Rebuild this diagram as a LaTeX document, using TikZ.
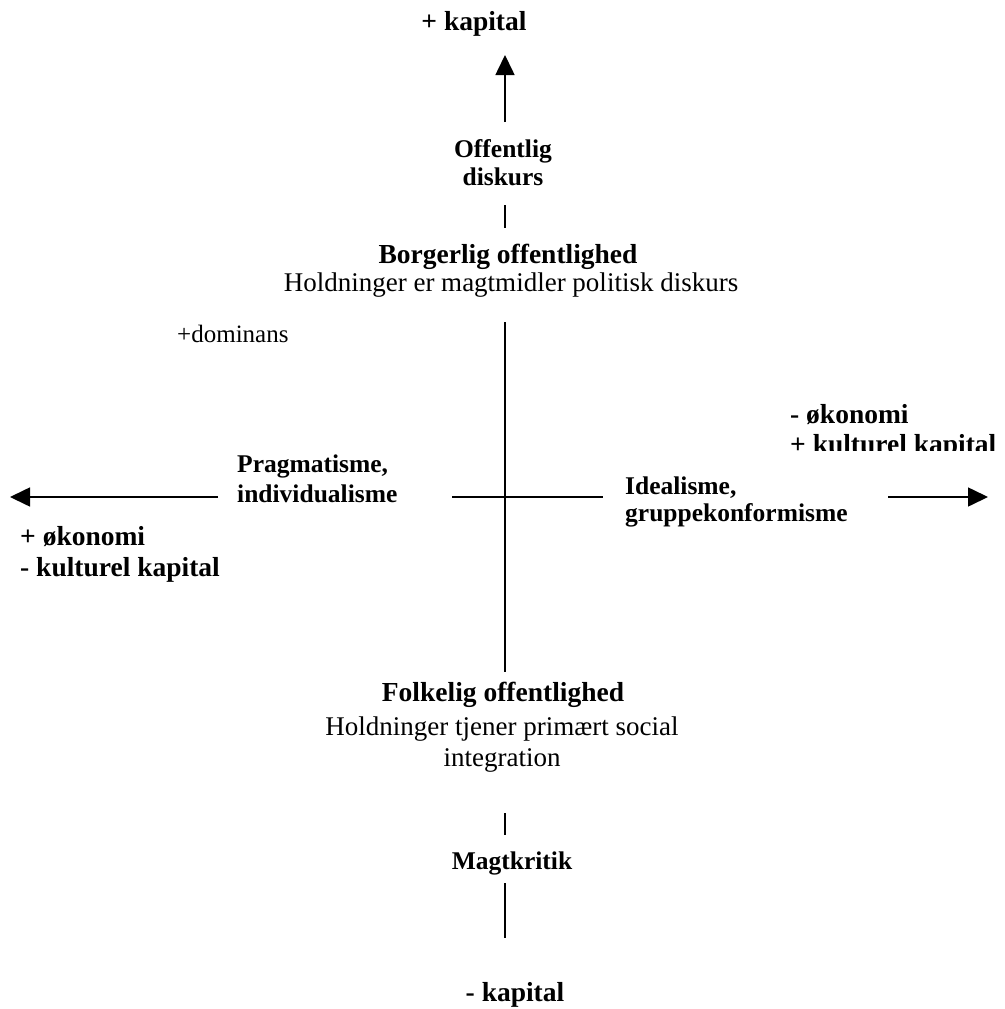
\documentclass[tikz,border=0pt]{standalone}
\usepackage{fontspec}
\setmainfont{Liberation Serif}
\usetikzlibrary{arrows.meta}
\begin{document}
\begin{tikzpicture}[x=1pt,y=-1pt,
  lbl/.style={inner sep=0pt, anchor=base},
  lblw/.style={inner sep=0pt, anchor=base west},
  bigb/.style={font=\fontsize{27.5}{32}\selectfont\bfseries},
  smallb/.style={font=\fontsize{25.5}{30}\selectfont\bfseries},
  reg/.style={font=\fontsize{27}{32}\selectfont},
  regs/.style={font=\fontsize{25}{30}\selectfont},
  axis/.style={line width=1.6pt, black},
  axarrow/.style={axis, -{Triangle[length=20pt,width=19pt]}}
]
\useasboundingbox (0,0) rectangle (1004,1009);

% top
\node[lbl,bigb] (kapplus) at (474,30) {+ kapital};
\coordinate (upstart) at (505,122);
\coordinate (uptip) at (505,55);
\draw[axarrow] (upstart) -- (uptip);
\node[lbl,smallb] (off1) at (503,157) {Offentlig};
\node[lbl,smallb] (off2) at (503,185) {diskurs};
\coordinate (s1a) at (505,205);
\coordinate (s1b) at (505,228);
\draw[axis] (s1a) -- (s1b);

\node[lbl,bigb] (borg) at (508,263) {Borgerlig offentlighed};
\node[lbl,reg] (borgtxt) at (511,291) {Holdninger er magtmidler politisk diskurs};
\node[lblw,regs] (dom) at (177,342) {+dominans};

% central cross
\coordinate (vtop) at (505,322);
\coordinate (vbot) at (505,672);
\draw[axis] (vtop) -- (vbot);
\coordinate (hl) at (452,497);
\coordinate (hr) at (603,497);
\draw[axis] (hl) -- (hr);

% left
\coordinate (lstart) at (218,497);
\coordinate (ltip) at (10,497);
\draw[axarrow] (lstart) -- (ltip);
\node[lblw,smallb] (prag1) at (237,472) {Pragmatisme,};
\node[lblw,smallb] (prag2) at (237,502) {individualisme};
\node[lblw,bigb] (lok) at (20,545) {+ økonomi};
\node[lblw,bigb] (lkul) at (20,576) {- kulturel kapital};

% right
\coordinate (rstart) at (888,497);
\coordinate (rtip) at (988,497);
\draw[axarrow] (rstart) -- (rtip);
\node[lblw,smallb] (ideal1) at (625,494) {Idealisme,};
\node[lblw,smallb] (ideal2) at (625,521) {gruppekonformisme};
\node[lblw,bigb] (rok) at (790,423) {- økonomi};
\begin{scope}
  \clip (700,380) rectangle (1004,450);
  \node[lblw,bigb] (rkul) at (790,453) {+ kulturel kapital};
\end{scope}

% bottom
\node[lbl,bigb] (folk) at (503,701) {Folkelig offentlighed};
\node[lbl,reg] (folktxt1) at (502,735) {Holdninger tjener primært social};
\node[lbl,reg] (folktxt2) at (502,766) {integration};
\coordinate (s2a) at (505,813);
\coordinate (s2b) at (505,835);
\draw[axis] (s2a) -- (s2b);
\node[lbl,smallb] (magt) at (512,869) {Magtkritik};
\coordinate (s3a) at (505,883);
\coordinate (s3b) at (505,938);
\draw[axis] (s3a) -- (s3b);
\node[lbl,bigb] (kapminus) at (515,1001) {- kapital};
\end{tikzpicture}
\end{document}
